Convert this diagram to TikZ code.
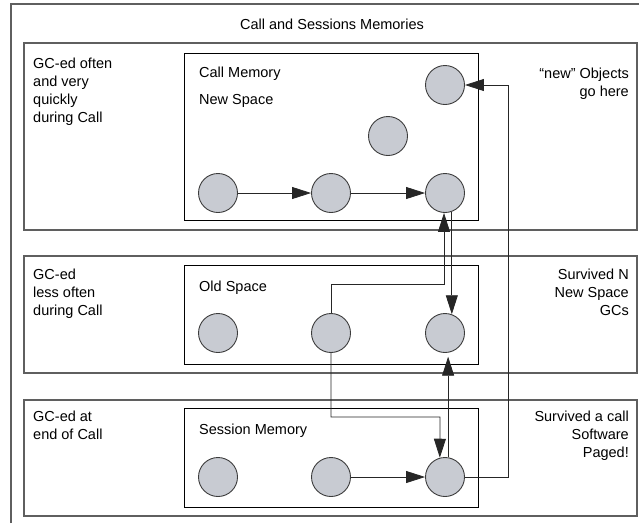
\documentclass[tikz,border=0pt]{standalone}
\usepackage{fontspec}
\setmainfont{Liberation Sans}
\usetikzlibrary{arrows.meta,calc}
\definecolor{cfill}{RGB}{200,203,210}
\definecolor{cedge}{RGB}{60,60,60}
\definecolor{frame}{RGB}{95,95,95}
\begin{document}
\begin{tikzpicture}[x=1pt,y=-1pt,
  obj/.style={circle,draw=cedge,fill=cfill,line width=0.9pt,minimum size=39pt,inner sep=0pt},
  bandbox/.style={draw=frame,line width=1.1pt},
  membox/.style={draw=black,line width=0.9pt},
  lbl/.style={inner sep=0pt,font=\fontsize{14.5}{18}\selectfont},
  conn/.style={draw=black!85,line width=0.8pt},
  arr/.style={conn,-{Triangle[length=19pt,width=12pt]}}]
\useasboundingbox (0,0) rectangle (639,523);
% outer frame
\draw[bandbox] (11,523) -- (11,4) -- (639,4);
\node[lbl,anchor=base] (title) at (332,29) {Call and Sessions Memories};
% bands
\draw[bandbox] (24,43) rectangle (637,230);
\draw[bandbox] (24,256) rectangle (637,373);
\draw[bandbox] (24,400) rectangle (637,516);
% memory boxes
\draw[membox] (184,53) rectangle (478,220);
\draw[membox] (184,265) rectangle (478,364);
\draw[membox] (184,408) rectangle (478,507);
% band texts (base anchor = baseline of last line)
\node[lbl,anchor=base west,align=left] (l1) at (33,122) {GC-ed often\\and very\\quickly\\during Call};
\node[lbl,anchor=base west,align=left] (l2) at (33,315) {GC-ed\\less often\\during Call};
\node[lbl,anchor=base west,align=left] (l3) at (33,439) {GC-ed at\\end of Call};
\node[lbl,anchor=base east,align=right] (r1) at (629,96) {“new” Objects\\go here};
\node[lbl,anchor=base east,align=right] (r2) at (629,315) {Survived N\\New Space\\GCs};
\node[lbl,anchor=base east,align=right] (r3) at (629,457) {Survived a call\\Software\\Paged!};
\node[lbl,anchor=base west] (cm) at (199,77) {Call Memory};
\node[lbl,anchor=base west] (ns) at (199,104) {New Space};
\node[lbl,anchor=base west] (os) at (199,291) {Old Space};
\node[lbl,anchor=base west] (sm) at (199,434) {Session Memory};
% objects
\node[obj] (T) at (445,85) {};
\node[obj] (M) at (388,136) {};
\node[obj] (C1) at (218,193) {};
\node[obj] (C2) at (331,193) {};
\node[obj] (C3) at (445,193) {};
\node[obj] (O1) at (218,333) {};
\node[obj] (O2) at (331,333) {};
\node[obj] (O3) at (445,333) {};
\node[obj] (S1) at (218,477) {};
\node[obj] (S2) at (331,477) {};
\node[obj] (S3) at (445,477) {};
% connectors
\draw[arr] (C1) -- (C2);
\draw[arr] (C2) -- (C3);
\draw[arr] (S2) -- (S3);
\coordinate (k1) at (508,477);
\coordinate (k2) at (508,85);
\draw[arr] (S3.east) -- (k1) -- (k2) -- (T.east);
\coordinate (k3) at (444,284);
\draw[arr] (O2.north) |- (k3) -- (k3 |- C3.-93);
\draw[arr] (C3.-70) -- (O3.70);
\coordinate (k4) at (440,417);
\draw[arr] (O2.south) |- (k4) -- (S3.105);
\draw[arr,shorten >=4pt] (S3.81) -- (O3.-81);
\end{tikzpicture}
\end{document}
